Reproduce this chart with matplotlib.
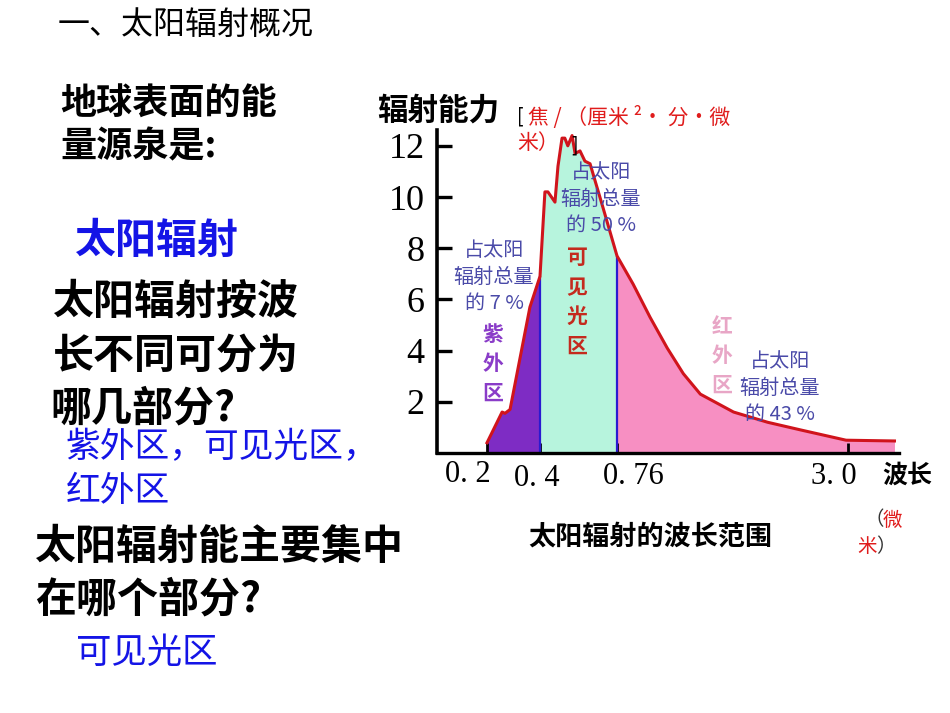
import numpy as np
import matplotlib
matplotlib.use('Agg')
import matplotlib.pyplot as plt

plt.rcParams['font.family'] = ['Noto Sans CJK SC', 'DejaVu Sans']

# ---------------- data ----------------
wavelength = [0.20, 0.257, 0.268, 0.287, 0.362, 0.40, 0.423, 0.437, 0.470, 0.484,
              0.503, 0.516, 0.530, 0.550, 0.564, 0.587, 0.610, 0.634, 0.694, 0.76,
              0.916, 1.081, 1.247, 1.403, 1.568, 1.890, 2.221, 2.542, 2.981, 3.41]
energy = [0.4, 1.6, 1.55, 1.7, 5.7, 6.9, 10.2, 10.2, 9.8, 11.2,
          12.3, 12.3, 12.0, 12.4, 11.7, 11.8, 11.4, 11.3, 9.6, 7.7,
          6.6, 5.3, 4.1, 3.1, 2.3, 1.6, 1.2, 0.9, 0.5, 0.47]
y_ticks = [2, 4, 6, 8, 10, 12]
y_tick_labels = ['2', '4', '6', '8', '10', '12']
x_ticks = [0.2, 0.4, 0.76, 3.0]
x_tick_labels = ['0. 2', '0. 4', '0. 76', '3. 0']
band_edges = [0.2, 0.4, 0.76, 3.41]
band_names = ['紫外区', '可见光区', '红外区']
band_share = ['7', '50', '43']
band_colors = ['#7e2cc4', '#b7f4dd', '#f78fc2']
band_name_colors = ['#8a3cc8', '#c42a1e', '#e8a6c6']

# piecewise (non-linear) wavelength axis of the original drawing
axis_wl = [0.0, 0.2, 0.4, 0.76, 3.0, 3.45]
axis_pos = [0, 50, 103, 180, 411, 462]

W, H = 950, 713
fig = plt.figure(figsize=(9.5, 7.13), dpi=100)


def P(x, y):
    return x / W, 1 - y / H


def T(x, y, s, size, color='black', weight='normal', ha='left', va='center', **kw):
    fig.text(*P(x, y), s, fontsize=size, color=color, fontweight=weight,
             ha=ha, va=va, **kw)


# ---------------- left side slide text ----------------
T(58, 25, '一、太阳辐射概况', 23)
T(60, 104, '地球表面的能', 26, weight='bold')
T(60, 147, '量源泉是:', 26, weight='bold')
T(75, 241, '太阳辐射', 29.5, color='#1414e6', weight='bold')
T(53, 302, '太阳辐射按波', 29.5, weight='bold')
T(53, 356, '长不同可分为', 29.5, weight='bold')
T(50, 408, '哪几部分?', 29.5, weight='bold')
T(66, 448, '紫外区，可见光区，', 25, color='#1414e6')
T(66, 492, '红外区', 25, color='#1414e6')
T(35, 547, '太阳辐射能主要集中', 29.5, weight='bold')
T(35, 599, '在哪个部分?', 29.5, weight='bold')
T(76, 653, '可见光区', 25.5, color='#1414e6')

# ---------------- chart ----------------
ax = fig.add_axes([437 / W, 1 - 453 / H, (899 - 437) / W, (453 - 130) / H])
fwd = lambda x: np.interp(x, axis_wl, axis_pos)
inv = lambda y: np.interp(y, axis_pos, axis_wl)
ax.set_xscale('function', functions=(fwd, inv))
ax.set_xlim(0.0, 3.45)
ax.set_ylim(0, 323 / 25.6)

wl = np.array(wavelength)
en = np.array(energy)
for lo, hi, c in zip(band_edges[:-1], band_edges[1:], band_colors):
    m = (wl >= lo) & (wl <= hi)
    ax.fill_between(wl[m], 0, en[m], color=c, lw=0, zorder=1)
edges = np.array(band_edges[1:3])
ax.vlines(edges, 0, np.interp(edges, wl, en), color='#2a1ad0', lw=1.6, zorder=2)
ax.plot(wl, en, color='#d0141c', lw=2.2, zorder=3)

for s in ['top', 'right']:
    ax.spines[s].set_visible(False)
ax.spines['left'].set_linewidth(2.6)
ax.spines['bottom'].set_linewidth(2.4)

ax.set_yticks(y_ticks)
ax.set_yticklabels(y_tick_labels, fontfamily='Liberation Serif', fontsize=26)
ax.tick_params(axis='y', direction='in', length=11, width=2.4, pad=9)
ax.set_xticks(x_ticks)
ax.set_xticklabels([])
ax.tick_params(axis='x', direction='in', length=7, width=2.0)
ax.patch.set_alpha(0)

# x tick labels, placed like the original drawing
x_off = [(-19, -21), (-3, -26), (16, -23), (-14, -23)]
for t, lab, (dx, dy) in zip(x_ticks, x_tick_labels, x_off):
    ax.annotate(lab, xy=(t, 0), xycoords=('data', 'axes fraction'),
                xytext=(dx, dy), textcoords='offset pixels', ha='center', va='center',
                fontsize=22, fontfamily='Liberation Serif', annotation_clip=False)
T(907, 476, '波长', 18, weight='bold', ha='center')

# axis titles / units
T(438, 111, '辐射能力', 22, weight='bold', ha='center')
T(517, 117, '[', 14, ha='left')
T(528, 117, '焦 / （厘米 ²• 分•微', 15, color='#e01c1c', ha='left')
T(517, 143, '米）', 15, color='#e01c1c', ha='left')
T(571, 146, ']', 14, ha='left')
T(650, 537, '太阳辐射的波长范围', 19.5, weight='bold', ha='center')
T(865, 520, '（', 14, color='#333333', ha='left')
T(883, 520, '微', 14, color='#e01c1c', ha='left')
T(857, 547, '米', 14, color='#e01c1c', ha='left')
T(876, 547, '）', 14, color='#333333', ha='left')

# band names (vertical) and shares
name_pos = [(493, 364), (577, 302), (722, 356)]
for name, c, (x, y) in zip(band_names, band_name_colors, name_pos):
    T(x, y, '\n'.join(name), 15, color=c, weight='bold', ha='center', linespacing=1.5)
share_pos = [(494, 277), (601, 199), (780, 388)]
for sh, (x, y) in zip(band_share, share_pos):
    T(x, y, '占太阳\n辐射总量\n的 %s %%' % sh, 14.5, color='#4a4aa8', ha='center',
      linespacing=1.35)

fig.savefig('out.png', dpi=100)
